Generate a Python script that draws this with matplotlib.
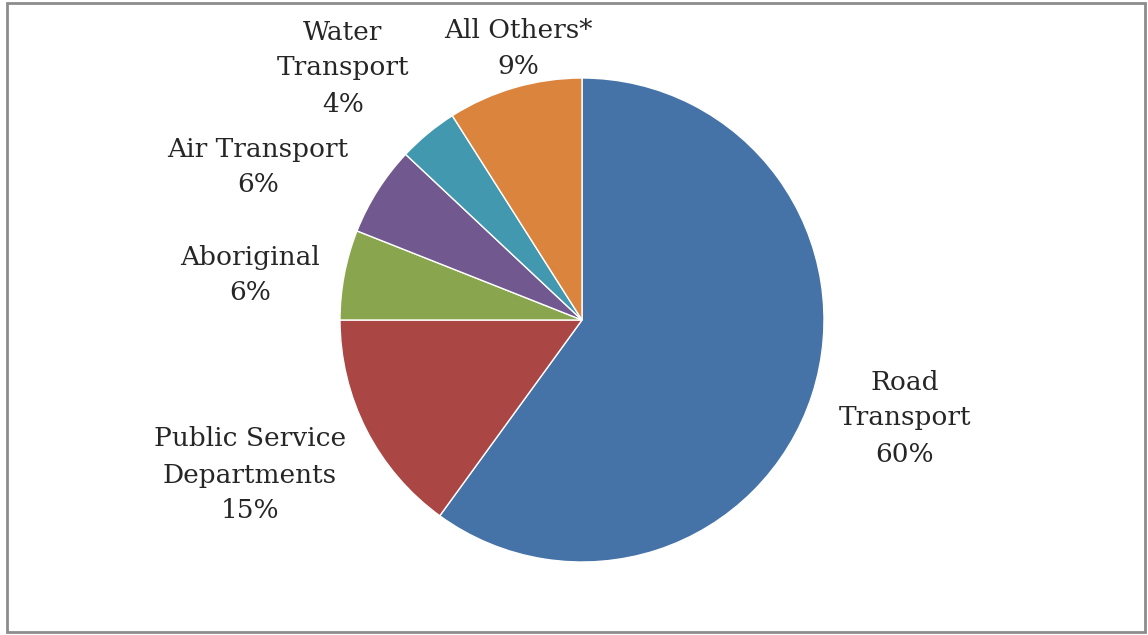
import matplotlib.pyplot as plt
from matplotlib.patches import Rectangle

categories = ["Road\nTransport", "Public Service\nDepartments", "Aboriginal",
              "Air Transport", "Water\nTransport", "All Others*"]
shares = [60, 15, 6, 6, 4, 9]
colors = ["#4572A7", "#AA4643", "#89A54E", "#71588F", "#4198AF", "#DB843D"]

# label centres in pixel coords (x from left, y from top)
label_pos = [(905, 418), (250, 475), (250, 275), (258, 167), (343, 68), (518, 49)]

W, H = 1148, 635
fig = plt.figure(figsize=(W / 100, H / 100), dpi=100)
ax = fig.add_axes([0, 0, 1, 1])

ax.pie(shares, colors=colors, startangle=90, counterclock=False,
       center=(582, H - 320), radius=242, frame=False,
       wedgeprops=dict(edgecolor="white", linewidth=1))

for name, val, (x, y) in zip(categories, shares, label_pos):
    ax.text(x, H - y, f"{name}\n{val}%", ha="center", va="center",
            fontsize=19, family="DejaVu Serif", color="#262626",
            linespacing=1.55)

ax.add_patch(Rectangle((7, 3), W - 10, H - 6, fill=False,
                       edgecolor="#8c8c8c", linewidth=2))

ax.set_xlim(0, W)
ax.set_ylim(0, H)
ax.set_aspect("equal")
ax.axis("off")

fig.savefig("out.png", dpi=100)
